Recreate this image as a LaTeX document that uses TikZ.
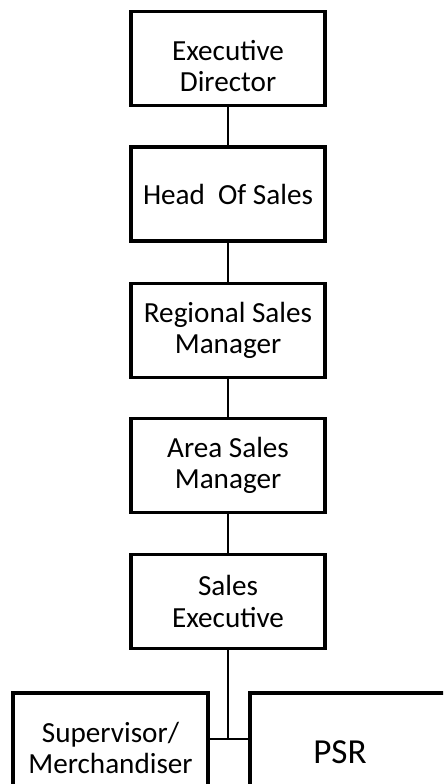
\documentclass[tikz,border=0pt]{standalone}
\usepackage{fontspec}
\setmainfont{Carlito}
\usetikzlibrary{positioning, calc}
\newcommand{\linkDown}[2]
{
	\draw[link] (#1.south) -- (#2.north)
}

\begin{document}
\begin{tikzpicture}[
			box/.style={shape=rectangle,
				draw=black,
				line width=2.2pt,
				align=center,
				font=\fontsize{16.6}{18}\selectfont,
				minimum width=3.88cm,
				minimum height=1.88cm},
			link/.style={draw=black, line width=1.3pt}]

			\path[use as bounding box, clip] (0, 0) rectangle (8.86, -15.68);

			\node[box] at (4.56, -1.17) (ED){\rule{0pt}{20pt}Executive\\Director};
			\node[box] at (4.56, -3.88) (HS){Head\ \ Of Sales};
			\node[box] at (4.56, -6.61) (RSM){Regional Sales\\Manager};
			\node[box] at (4.56, -9.31) (ASM){Area Sales\\Manager};
			\node[box] at (4.56, -12.03) (SE){Sales\\Executive};

			% bottom row runs off the page
			\node[box, minimum width=3.9cm, minimum height=2.2cm] at (2.21, -14.96) (SUP){Supervisor/\\Merchandiser\hspace{8pt}};
			\node[box, minimum width=5cm, minimum height=2.2cm] at (7.5, -14.96) (PSR){};
			\node[font=\fontsize{20}{22}\selectfont] at (6.8, -15.04) (PSRtext){PSR};

			\linkDown{ED}{HS};
			\linkDown{HS}{RSM};
			\linkDown{RSM}{ASM};
			\linkDown{ASM}{SE};

			\coordinate (J) at (4.56, -14.78);
			\draw[link] (SE.south) -- (J);
			\draw[link] (SUP.east |- J) -- (PSR.west |- J);
		\end{tikzpicture}
\end{document}
